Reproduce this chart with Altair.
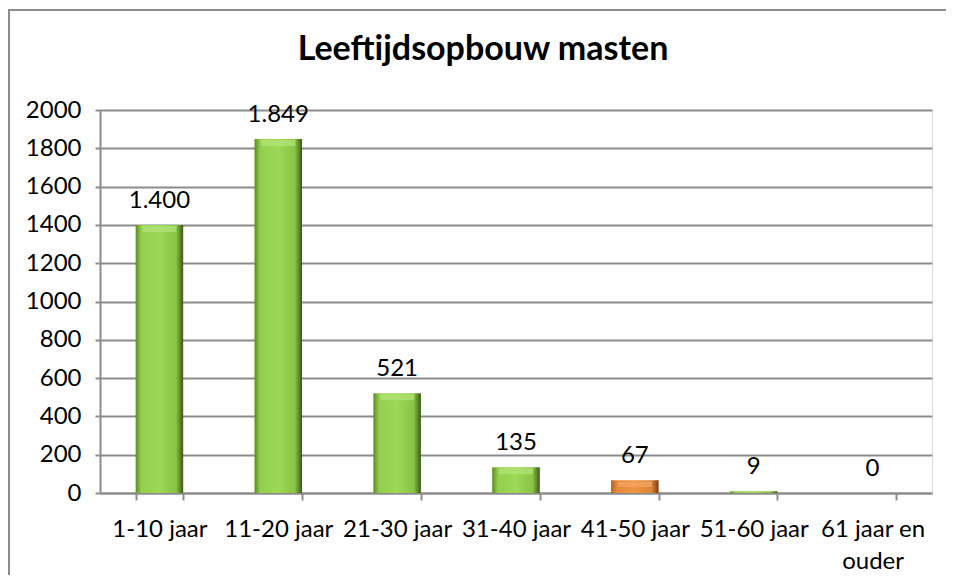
import altair as alt
import pandas as pd

categories = ["1-10 jaar", "11-20 jaar", "21-30 jaar", "31-40 jaar",
              "41-50 jaar", "51-60 jaar", "61 jaar en ouder"]
values = [1400, 1849, 521, 135, 67, 9, 0]
highlight = [False, False, False, False, True, False, False]
labels = [f"{v:,}".replace(",", ".") for v in values]
y_ticks = list(range(0, 2001, 200))

df = pd.DataFrame({"cat": categories, "value": values, "label": labels, "hl": highlight})

W, H = 832, 383
FONT = "Lato"
GRID = "#8c8c8c"
FS = 24

green = alt.Gradient(gradient="linear", x1=0, x2=1, y1=0, y2=0, stops=[
    alt.GradientStop(offset=0, color="#5f8a22"),
    alt.GradientStop(offset=0.12, color="#92cf4e"),
    alt.GradientStop(offset=0.5, color="#9dd957"),
    alt.GradientStop(offset=0.85, color="#88c445"),
    alt.GradientStop(offset=1, color="#3d5914"),
])
orange = alt.Gradient(gradient="linear", x1=0, x2=1, y1=0, y2=0, stops=[
    alt.GradientStop(offset=0, color="#b8601e"),
    alt.GradientStop(offset=0.12, color="#e58a3c"),
    alt.GradientStop(offset=0.5, color="#ee9445"),
    alt.GradientStop(offset=0.85, color="#dd8236"),
    alt.GradientStop(offset=1, color="#7a3d10"),
])

x_enc = alt.X("cat:N", sort=categories, title=None,
              scale=alt.Scale(paddingInner=0.6, paddingOuter=0.3),
              axis=alt.Axis(labelAngle=0, labelFont=FONT, labelFontSize=FS,
                            labelColor="#000000", labelPadding=17,
                            labelLineHeight=32, labelLimit=200,
                            labelExpr="datum.label == '61 jaar en ouder' ? ['61 jaar en', 'ouder'] : datum.label",
                            tickBand="extent", tickSize=7, tickColor=GRID, tickWidth=2,
                            domainColor=GRID, domainWidth=2, grid=False))
y_enc = alt.Y("value:Q", title=None,
              scale=alt.Scale(domain=[0, 2000], nice=False),
              axis=alt.Axis(values=y_ticks, format="d", labelFont=FONT, labelFontSize=FS,
                            labelColor="#000000", labelPadding=14,
                            tickSize=5, tickColor=GRID, tickWidth=2,
                            domainColor=GRID, domainWidth=2,
                            grid=True, gridColor=GRID, gridWidth=2))

base = alt.Chart(df)

frame = base.mark_rect(filled=False, stroke="#8c8c8c", strokeWidth=2).encode(
    x=alt.value(-91), x2=alt.value(W + 40), y=alt.value(-100), y2=alt.value(H + 150))

bars_green = base.transform_filter("!datum.hl").mark_bar(fill=green).encode(x=x_enc, y=y_enc)
bars_orange = base.transform_filter("datum.hl").mark_bar(fill=orange).encode(x=x_enc, y=y_enc)

bevel_g = base.transform_filter("!datum.hl && datum.value > 50").mark_tick(
    color="#b4e67a", thickness=6, size=34, yOffset=4).encode(x=x_enc, y=y_enc)
bevel_o = base.transform_filter("datum.hl").mark_tick(
    color="#f4a865", thickness=5, size=34, yOffset=4).encode(x=x_enc, y=y_enc)

text = base.mark_text(baseline="alphabetic", dy=-17, font=FONT, fontSize=FS,
                      color="#000000").encode(x=x_enc, y=y_enc, text="label:N")

chart = alt.layer(frame, bars_green, bars_orange, bevel_g, bevel_o, text).properties(
    width=W, height=H,
    title=alt.TitleParams("Leeftijdsopbouw masten", font=FONT, fontSize=34,
                          fontWeight="bold", color="#000000", anchor="middle",
                          frame="group", baseline="alphabetic", offset=-85, dx=-33),
    autosize=alt.AutoSizeParams(type="none"),
    padding={"left": 92, "top": 102, "right": 14, "bottom": 82},
).configure_view(stroke=None).configure(background="#ffffff")

chart.save("out.html", embed_options={"renderer": "svg", "actions": False})
